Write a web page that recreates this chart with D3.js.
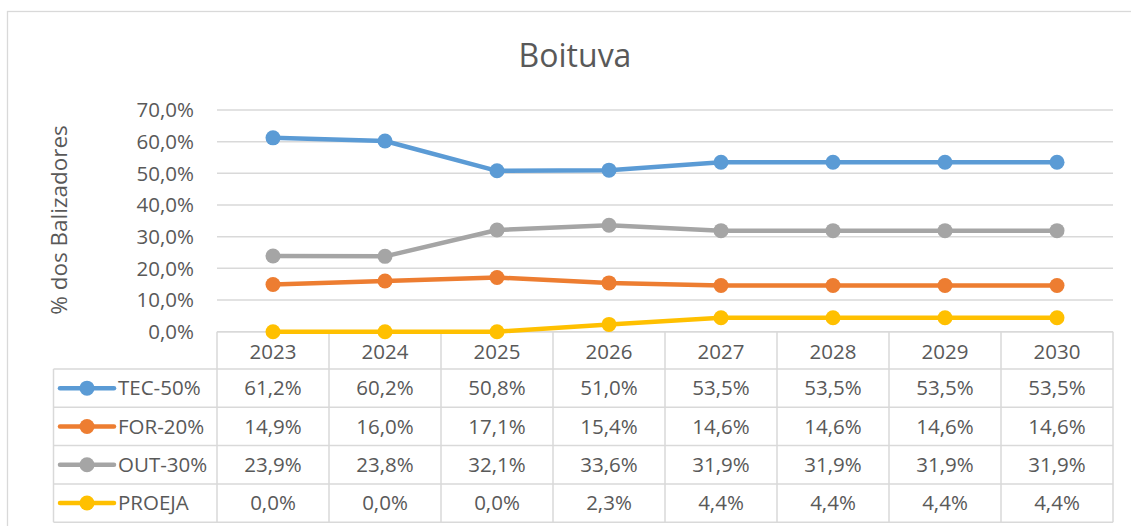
<!DOCTYPE html>
<html><head><meta charset="utf-8">
<script src="https://cdn.jsdelivr.net/npm/d3@7"></script>
<style>html,body{margin:0;padding:0;background:#fff;}svg{display:block;}</style>
</head><body>
<svg id="c" width="1131" height="526"></svg>
<script>
const title = "Boituva";
const yAxisTitle = "% dos Balizadores";
const years = ["2023","2024","2025","2026","2027","2028","2029","2030"];
const seriesNames = ["TEC-50%","FOR-20%","OUT-30%","PROEJA"];
const seriesColors = ["#5B9BD5","#ED7D31","#A5A5A5","#FFC000"];
const tec = [61.2,60.2,50.8,51.0,53.5,53.5,53.5,53.5];
const forr = [14.9,16.0,17.1,15.4,14.6,14.6,14.6,14.6];
const out = [23.9,23.8,32.1,33.6,31.9,31.9,31.9,31.9];
const proeja = [0.0,0.0,0.0,2.3,4.4,4.4,4.4,4.4];
const yTicks = [0,10,20,30,40,50,60,70];

const seriesValues = [tec, forr, out, proeja];
const fmt = v => v.toFixed(1).replace(".", ",") + "%";
const FONT = "'Open Sans', sans-serif";
const TXT = "#595959";
const GRID = "#D9D9D9";
const FS = 20.5;

const svg = d3.select("#c");
svg.append("rect").attr("x",7.5).attr("y",11.5).attr("width",1140).attr("height",530)
  .attr("fill","#fff").attr("stroke",GRID).attr("stroke-width",1.3);

const left = 217, right = 1113, y0 = 331.7, yTop = 110;
const x = d3.scaleBand().domain(years).range([left,right]).padding(0);
const y = d3.scaleLinear().domain([0,70]).range([y0,yTop]);

// title
svg.append("text").attr("x",575).attr("y",67).attr("text-anchor","middle")
  .attr("font-family",FONT).attr("font-size",32).attr("fill",TXT).text(title);

// y axis title
svg.append("text").attr("transform","translate(67,220) rotate(-90)").attr("text-anchor","middle")
  .attr("font-family",FONT).attr("font-size",22.5).attr("fill",TXT).text(yAxisTitle);

// gridlines
svg.append("g").selectAll("line").data(yTicks).join("line")
  .attr("x1",left).attr("x2",right).attr("y1",d=>y(d)).attr("y2",d=>y(d))
  .attr("stroke",GRID).attr("stroke-width",1.5);

// y tick labels
svg.append("g").selectAll("text").data(yTicks).join("text")
  .attr("x",194).attr("y",d=>y(d)).attr("dy","0.35em").attr("text-anchor","end")
  .attr("font-family",FONT).attr("font-size",FS).attr("fill",TXT).text(d=>fmt(d));

// data table
const rowTop = 331.7, headH = 37.3, rowH = 38.3;
const tableLeft = 53.5;
const rowY = i => rowTop + headH + i*rowH;
const tbl = svg.append("g");
tbl.append("line").attr("x1",left).attr("x2",right).attr("y1",rowTop).attr("y2",rowTop).attr("stroke",GRID).attr("stroke-width",1.5);
for (let i=0;i<=seriesNames.length;i++){
  tbl.append("line").attr("x1",tableLeft).attr("x2",right).attr("y1",rowY(i)).attr("y2",rowY(i)).attr("stroke",GRID).attr("stroke-width",1.5);
}
years.forEach((yr)=>{
  tbl.append("line").attr("x1",x(yr)).attr("x2",x(yr)).attr("y1",rowTop).attr("y2",rowY(seriesNames.length)).attr("stroke",GRID).attr("stroke-width",1.5);
});
tbl.append("line").attr("x1",right).attr("x2",right).attr("y1",rowTop).attr("y2",rowY(seriesNames.length)).attr("stroke",GRID).attr("stroke-width",1.5);
tbl.append("line").attr("x1",tableLeft).attr("x2",tableLeft).attr("y1",rowY(0)).attr("y2",rowY(seriesNames.length)).attr("stroke",GRID).attr("stroke-width",1.5);

tbl.selectAll("text.yr").data(years).join("text").attr("class","yr")
  .attr("x",d=>x(d)+x.bandwidth()/2).attr("y",rowTop+headH/2+1).attr("dy","0.35em").attr("text-anchor","middle")
  .attr("font-family",FONT).attr("font-size",FS).attr("fill",TXT).text(d=>d);

seriesNames.forEach((name,i)=>{
  const cy = rowY(i)+rowH/2;
  tbl.append("line").attr("x1",60).attr("x2",114).attr("y1",cy).attr("y2",cy)
    .attr("stroke",seriesColors[i]).attr("stroke-width",4.5).attr("stroke-linecap","round");
  tbl.append("circle").attr("cx",87).attr("cy",cy).attr("r",7.5).attr("fill",seriesColors[i]);
  tbl.append("text").attr("x",118).attr("y",cy).attr("dy","0.35em")
    .attr("font-family",FONT).attr("font-size",FS).attr("fill",TXT).text(name);
  tbl.selectAll("text.v"+i).data(seriesValues[i]).join("text").attr("class","v"+i)
    .attr("x",(d,j)=>x(years[j])+x.bandwidth()/2).attr("y",cy).attr("dy","0.35em").attr("text-anchor","middle")
    .attr("font-family",FONT).attr("font-size",FS).attr("fill",TXT).text(d=>fmt(d));
});

const line = d3.line().x((d,j)=>x(years[j])+x.bandwidth()/2).y(d=>y(d));
seriesValues.forEach((vals,i)=>{
  svg.append("path").datum(vals).attr("d",line).attr("fill","none")
    .attr("stroke",seriesColors[i]).attr("stroke-width",4.5).attr("stroke-linejoin","round").attr("stroke-linecap","round");
  svg.append("g").selectAll("circle").data(vals).join("circle")
    .attr("cx",(d,j)=>x(years[j])+x.bandwidth()/2).attr("cy",d=>y(d)).attr("r",7.5).attr("fill",seriesColors[i]);
});
</script>
</body></html>
